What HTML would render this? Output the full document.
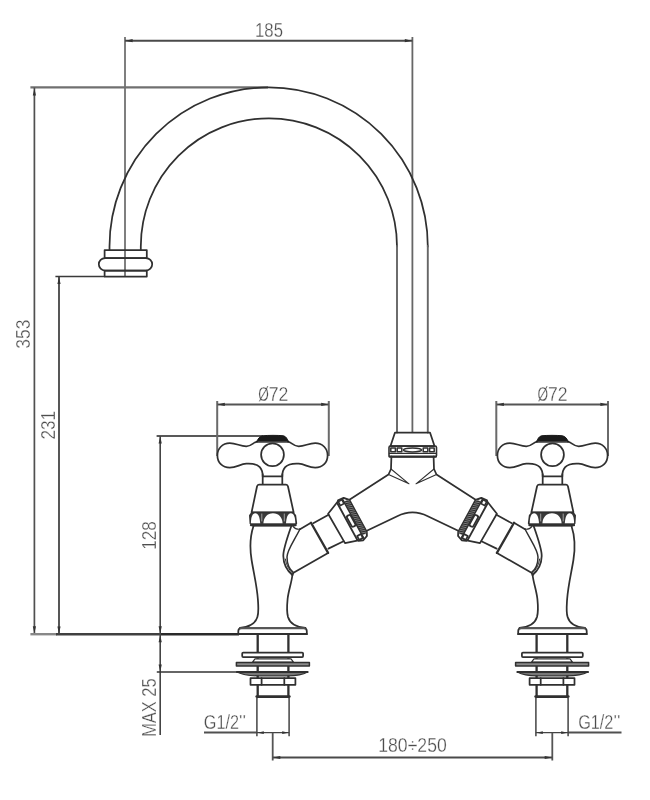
<!DOCTYPE html>
<html><head><meta charset="utf-8"><title>Technical drawing</title>
<style>
html,body{margin:0;padding:0;background:#fff;}
svg{display:block;will-change:transform;}
text{font-family:"Liberation Sans",sans-serif;font-size:19.3px;fill:#4d4d4d;stroke:#fff;stroke-width:0.3px;}
</style></head>
<body>
<svg width="650" height="800" viewBox="0 0 650 800">
<defs>
<pattern id="knurl" width="2" height="2" patternUnits="userSpaceOnUse" patternTransform="rotate(40)">
<rect width="2" height="2" fill="#999"/><rect width="2" height="1.25" fill="#2a2a2a"/>
</pattern>
</defs>
<g fill="none" stroke="#444" stroke-width="1.6">
<path d="M125,37 L125,276.5" stroke="#555" stroke-width="1.5"/>
<path d="M412.4,37 L412.4,432.5" stroke="#666" stroke-width="1.8"/>
<path d="M125,40.7 L412.4,40.7" stroke-width="2" stroke="#4a4a4a"/>
<path d="M30.4,87.4 L268,87.4" stroke-width="2.4" stroke="#707070"/>
<path d="M34.4,87.6 L34.4,634.2" stroke="#505050" stroke-width="1.7"/>
<path d="M59,276.3 L59,634.2" stroke="#444" stroke-width="1.8"/>
<path d="M55.4,276.5 L104.6,276.5" stroke="#3a3a3a"/>
<path d="M30.4,634.2 L57,634.2" stroke-width="2.4" stroke="#888"/>
<path d="M56,634.2 L160,634.2" stroke-width="2.4" stroke="#404040"/>
<path d="M160,634.2 L239,634.2" stroke-width="2.4" stroke="#2a2a2a"/>
<path d="M156.6,436 L263,436" stroke="#222" stroke-width="1.7"/>
<path d="M160.2,436 L160.2,735"/>
<path d="M156.8,671.9 L238,671.9" stroke="#333" stroke-width="1.5"/>
<path d="M217.2,401 L217.2,456 M328.8,401 L328.8,456" stroke="#6a6a6a" stroke-width="2"/>
<path d="M217.2,404.4 L328.8,404.4" stroke-width="2" stroke="#555"/>
<path d="M496.3,401 L496.3,456 M608.0,401 L608.0,456" stroke="#6a6a6a" stroke-width="2"/>
<path d="M496.3,404.4 L608.0,404.4" stroke-width="2" stroke="#555"/>
<path d="M204,732.6 L256.9,732.6 M568.1,732.6 L621.5,732.6" stroke-width="2" stroke="#505050"/>
<path d="M256.9,732.7 L289.2,732.7 M535.8,732.7 L568.1,732.7" stroke-width="1.3"/>
<path d="M256.9,698 L256.9,736.3 M289.1,698 L289.1,736.3 M535.9,698 L535.9,736.3 M568.1,698 L568.1,736.3" stroke-width="1.5"/>
<path d="M272.7,732.7 L272.7,760.4 M552.3,732.7 L552.3,760.4" stroke="#555" stroke-width="1.8"/>
<path d="M272.7,757.5 L552.3,757.5" stroke-width="2" stroke="#4a4a4a"/>
</g>
<g fill="#333" stroke="none">
<polygon points="125.6,40.7 132.6,39.1 132.6,42.3"/>
<polygon points="411.8,40.7 404.8,39.1 404.8,42.3"/>
<polygon points="34.4,88.6 32.8,95.6 36.0,95.6"/>
<polygon points="34.4,633.2 32.8,626.2 36.0,626.2"/>
<polygon points="59.0,277.0 57.4,284.0 60.6,284.0"/>
<polygon points="59.0,633.4 57.4,626.4 60.6,626.4"/>
<polygon points="160.2,436.6 158.6,443.6 161.8,443.6"/>
<polygon points="160.2,633.2 158.6,626.2 161.8,626.2"/>
<polygon points="160.2,635.2 158.6,642.2 161.8,642.2"/>
<polygon points="160.2,671.4 158.6,664.4 161.8,664.4"/>
<polygon points="217.8,404.4 224.8,402.8 224.8,406.0"/>
<polygon points="328.2,404.4 321.2,402.8 321.2,406.0"/>
<polygon points="496.9,404.4 503.9,402.8 503.9,406.0"/>
<polygon points="607.4,404.4 600.4,402.8 600.4,406.0"/>
<polygon points="257.6,732.7 263.8,731.3 263.8,734.1"/>
<polygon points="288.4,732.7 282.2,731.3 282.2,734.1"/>
<polygon points="536.6,732.7 542.8,731.3 542.8,734.1"/>
<polygon points="567.4,732.7 561.2,731.3 561.2,734.1"/>
<polygon points="273.3,757.5 280.3,755.9 280.3,759.1"/>
<polygon points="551.7,757.5 544.7,755.9 544.7,759.1"/>
</g>
<g fill="none" stroke="#303030" stroke-width="1.75" stroke-linejoin="round" stroke-linecap="round">
<path d="M109.5,250 L109.5,246.5 A159.15,159.15 0 0 1 427.8,246.5"/>
<path d="M140.8,250 L140.8,246.4 A128.1,128.1 0 0 1 397,246.4"/>
<path d="M427.8,246 L427.8,432.5 M397,246 L397,432.5" stroke="#666" stroke-width="1.9"/>
<rect x="104.6" y="250" width="42.2" height="8"/>
<rect x="104.6" y="270.5" width="42.2" height="6"/>
<rect x="98.8" y="258" width="53.4" height="12.5" rx="6.25"/>
<path d="M395,432.5 L430,432.5 L434.5,446 L390.5,446 Z"/>
<rect x="389" y="446" width="47.5" height="11" rx="1.5" stroke-width="1.6"/>
<path d="M389.5,453.4 L436,453.4" stroke-width="1.4"/>
<path d="M389.5,456.5 L436,456.5" stroke-width="2"/>
<rect x="390.8" y="448.1" width="4.6" height="3.6" stroke-width="1.5"/>
<rect x="397.2" y="448.1" width="4.6" height="3.6" stroke-width="1.5"/>
<rect x="423.2" y="448.1" width="4.6" height="3.6" stroke-width="1.5"/>
<rect x="429.6" y="448.1" width="4.6" height="3.6" stroke-width="1.5"/>
<ellipse cx="412.5" cy="449.9" rx="9" ry="2" stroke-width="1.5"/>
<path d="M366.8,530.8 L397.2,516.2 Q412.5,508.5 427.8,516.2 L458.2,530.8"/>
</g>
<g fill="none" stroke="#303030" stroke-width="1.75" stroke-linejoin="round" stroke-linecap="round">
<path d="M391.4,456.5 L391,469 L388.5,474.5 L349,500"/>
<path d="M391,469 L409,483.8 L388.5,474.5" stroke-width="1.1"/>
<path d="M336.8,502.8 L328.1,513.8 L345,543.1 L357.2,540.6"/>
<path d="M328.6,514.8 L313.2,523.2 M343.6,541.2 L328.4,548.6"/>
<path d="M311,522.8 L328.1,552.9" stroke-width="2.3"/>
<path d="M311,522.8 L300,529.2 M328.1,552.9 L293.5,572.7 L292.4,575"/>
<path d="M291.2,526.5 C287.5,537 283.2,549 283.3,556 C283.4,563.5 287,570.5 292.4,575"/>
<path d="M300,529 C294,541 287,550 287,557 C287,563.5 289.5,569.5 293.5,572.7" stroke-width="1.5"/>
<path d="M285.3,559 C286.2,565 289,570 292.8,573.4" stroke-width="1"/>
<path d="M293.2,526.6 Q295.5,529.6 300,529.2" stroke-width="1.2"/>
<g transform="translate(352.6,518.5) rotate(-28.5)">
<path d="M-6.1,-21 L-4.2,-22.8 L2,-22.4 L6,-17.8 L6,18.6 L4.2,22.2 L-1,24.2 L-5.4,22.4 L-6.1,20.4 Z" stroke-width="1.9" fill="#fff"/>
<rect x="0.8" y="-19" width="4.8" height="38.6" fill="url(#knurl)" stroke="none"/>
<path d="M0.4,-21.6 L0.4,22.6" stroke-width="1.6"/>
<rect x="-4.6" y="-21.6" width="4.2" height="4.4" stroke-width="1.7"/>
<rect x="-4.4" y="17.6" width="4.2" height="4.4" stroke-width="1.7"/>
<rect x="-4.5" y="-4.8" width="4.2" height="12.4" rx="1.6" stroke-width="1.8"/>
</g>
</g>
<g fill="none" stroke="#303030" stroke-width="1.75" stroke-linejoin="round" stroke-linecap="round" transform="translate(825,0) scale(-1,1)">
<path d="M391.4,456.5 L391,469 L388.5,474.5 L349,500"/>
<path d="M391,469 L409,483.8 L388.5,474.5" stroke-width="1.1"/>
<path d="M336.8,502.8 L328.1,513.8 L345,543.1 L357.2,540.6"/>
<path d="M328.6,514.8 L313.2,523.2 M343.6,541.2 L328.4,548.6"/>
<path d="M311,522.8 L328.1,552.9" stroke-width="2.3"/>
<path d="M311,522.8 L300,529.2 M328.1,552.9 L293.5,572.7 L292.4,575"/>
<path d="M291.2,526.5 C287.5,537 283.2,549 283.3,556 C283.4,563.5 287,570.5 292.4,575"/>
<path d="M300,529 C294,541 287,550 287,557 C287,563.5 289.5,569.5 293.5,572.7" stroke-width="1.5"/>
<path d="M285.3,559 C286.2,565 289,570 292.8,573.4" stroke-width="1"/>
<path d="M293.2,526.6 Q295.5,529.6 300,529.2" stroke-width="1.2"/>
<g transform="translate(352.6,518.5) rotate(-28.5)">
<path d="M-6.1,-21 L-4.2,-22.8 L2,-22.4 L6,-17.8 L6,18.6 L4.2,22.2 L-1,24.2 L-5.4,22.4 L-6.1,20.4 Z" stroke-width="1.9" fill="#fff"/>
<rect x="0.8" y="-19" width="4.8" height="38.6" fill="url(#knurl)" stroke="none"/>
<path d="M0.4,-21.6 L0.4,22.6" stroke-width="1.6"/>
<rect x="-4.6" y="-21.6" width="4.2" height="4.4" stroke-width="1.7"/>
<rect x="-4.4" y="17.6" width="4.2" height="4.4" stroke-width="1.7"/>
<rect x="-4.5" y="-4.8" width="4.2" height="12.4" rx="1.6" stroke-width="1.8"/>
</g>
</g>
<g fill="#fff" stroke="#303030" stroke-width="1.75" stroke-linejoin="round" stroke-linecap="round">
<path d="M257,441.6 C253.5,442.2 251.5,446.3 246.3,446.3 C240,446.3 236.5,443.2 229.8,443.2 C222.3,443.2 217.4,448.6 217.4,455.4 C217.4,462.4 222.3,467.5 229.8,467.5 C236.5,467.5 240,464.2 246.3,463.7 C252.5,463.3 257,464.3 259.8,467.2 C261.8,469.4 262.7,472 262.7,476.4"/>
<path d="M288,441.6 C291.5,442.2 293.5,446.3 298.7,446.3 C305,446.3 308.5,443.2 315.2,443.2 C322.7,443.2 327.6,448.6 327.6,455.4 C327.6,462.4 322.7,467.5 315.2,467.5 C308.5,467.5 305,464.2 298.7,463.7 C292.5,463.3 288,464.3 285.2,467.2 C283.2,469.4 282.3,472 282.3,476.4"/>
<path d="M256.6,441.8 C258,438.8 259.5,436.4 262.5,435.8 C268,435.2 278,435.2 283.5,435.8 C286,436.4 287.2,438.8 288.6,441.8 Z" fill="#1a1a1a" stroke="#1a1a1a" stroke-width="1"/>
<circle cx="272.5" cy="454.7" r="11.4"/>
<path d="M262.7,474 L262.7,484.5 M282.3,474 L282.3,484.5 M262.7,476.4 L282.3,476.4"/>
<path d="M259,484.5 L286,484.5 Q287.6,484.5 288,486.5 L293.6,512.3 L251.6,512.3 L257,486.5 Q257.4,484.5 259,484.5 Z"/>
<path d="M252,512.4 L293,512.4 L295.4,515.4 L296.4,523.4 L294,525.8 L252.8,525.8 L250.3,523.4 L249.8,515.4 Z" stroke-width="1.5" fill="#3a3a3a"/>
<path d="M250.9,523.3 C251,517 252.4,513.3 255.3,513.3 C258.4,513.3 259.8,517.5 260.2,523.3 Z" stroke="none"/>
<path d="M263.4,523.3 C263.8,517 267.4,513.2 273,513.2 C278.6,513.2 282.2,517 282.6,523.3 Z" stroke="none"/>
<path d="M286,523.3 C286.4,517.5 287.8,513.3 290.9,513.3 C293.8,513.3 295.2,517 295.3,523.3 Z" stroke="none"/>
<path d="M261.8,514 L261.8,521 M284.3,514 L284.3,521" stroke="#bbb" stroke-width="0.8"/>
<path d="M251,525.2 L295.6,525.2" stroke-width="2.2"/>
<path d="M253.5,526 C250.2,536 249.8,549 251.6,560 C253.5,572 257,586 257.9,599.5 C258.3,606 259,612 257.4,617 C255.4,623.5 249,627.2 240,627.9"/>
<path d="M292.4,575 C291.5,583 288.6,590 287.6,599 C287,605 286.6,612 288,617 C290,623.5 296.5,627.2 305.5,627.9"/>
<path d="M238.3,634.2 L238.3,631 Q238.3,628 241.5,628 L303.6,628 Q306.8,628 306.8,631 L306.8,634.2 Z"/>
<path d="M238.3,633.9 L306.8,633.9" stroke-width="2"/>
<path d="M240.5,628.2 L304.6,628.2" stroke-width="2" stroke="#555"/>
<path d="M257.7,634.5 L257.7,697 M288.4,634.5 L288.4,697" stroke-width="2.3"/>
<path d="M256.8,696.6 L289.3,696.6" stroke-width="2.8"/>
<rect x="242.2" y="652.5" width="60.9" height="4.6" rx="1"/>
<path d="M255,658.8 L291,658.8 L293.5,662.2 L252.5,662.2 Z" stroke-width="1.2"/>
<rect x="236.4" y="662.6" width="73" height="3.4" fill="#8a8a8a" stroke-width="1.5"/>
<path d="M237,672 C244,675.6 252,675.8 258,675.8 L288,675.8 C294,675.8 301,675.6 307.6,672 Z" fill="#777" stroke-width="1.2"/>
<path d="M237,672 L307.6,672" stroke-width="2"/>
<rect x="250.5" y="678.2" width="44.9" height="6.6"/>
<path d="M261.6,678.2 L261.6,684.8 M284.3,678.2 L284.3,684.8"/>
</g>
<g fill="#fff" stroke="#303030" stroke-width="1.75" stroke-linejoin="round" stroke-linecap="round" transform="translate(825,0) scale(-1,1)">
<path d="M257,441.6 C253.5,442.2 251.5,446.3 246.3,446.3 C240,446.3 236.5,443.2 229.8,443.2 C222.3,443.2 217.4,448.6 217.4,455.4 C217.4,462.4 222.3,467.5 229.8,467.5 C236.5,467.5 240,464.2 246.3,463.7 C252.5,463.3 257,464.3 259.8,467.2 C261.8,469.4 262.7,472 262.7,476.4"/>
<path d="M288,441.6 C291.5,442.2 293.5,446.3 298.7,446.3 C305,446.3 308.5,443.2 315.2,443.2 C322.7,443.2 327.6,448.6 327.6,455.4 C327.6,462.4 322.7,467.5 315.2,467.5 C308.5,467.5 305,464.2 298.7,463.7 C292.5,463.3 288,464.3 285.2,467.2 C283.2,469.4 282.3,472 282.3,476.4"/>
<path d="M256.6,441.8 C258,438.8 259.5,436.4 262.5,435.8 C268,435.2 278,435.2 283.5,435.8 C286,436.4 287.2,438.8 288.6,441.8 Z" fill="#1a1a1a" stroke="#1a1a1a" stroke-width="1"/>
<circle cx="272.5" cy="454.7" r="11.4"/>
<path d="M262.7,474 L262.7,484.5 M282.3,474 L282.3,484.5 M262.7,476.4 L282.3,476.4"/>
<path d="M259,484.5 L286,484.5 Q287.6,484.5 288,486.5 L293.6,512.3 L251.6,512.3 L257,486.5 Q257.4,484.5 259,484.5 Z"/>
<path d="M252,512.4 L293,512.4 L295.4,515.4 L296.4,523.4 L294,525.8 L252.8,525.8 L250.3,523.4 L249.8,515.4 Z" stroke-width="1.5" fill="#3a3a3a"/>
<path d="M250.9,523.3 C251,517 252.4,513.3 255.3,513.3 C258.4,513.3 259.8,517.5 260.2,523.3 Z" stroke="none"/>
<path d="M263.4,523.3 C263.8,517 267.4,513.2 273,513.2 C278.6,513.2 282.2,517 282.6,523.3 Z" stroke="none"/>
<path d="M286,523.3 C286.4,517.5 287.8,513.3 290.9,513.3 C293.8,513.3 295.2,517 295.3,523.3 Z" stroke="none"/>
<path d="M261.8,514 L261.8,521 M284.3,514 L284.3,521" stroke="#bbb" stroke-width="0.8"/>
<path d="M251,525.2 L295.6,525.2" stroke-width="2.2"/>
<path d="M253.5,526 C250.2,536 249.8,549 251.6,560 C253.5,572 257,586 257.9,599.5 C258.3,606 259,612 257.4,617 C255.4,623.5 249,627.2 240,627.9"/>
<path d="M292.4,575 C291.5,583 288.6,590 287.6,599 C287,605 286.6,612 288,617 C290,623.5 296.5,627.2 305.5,627.9"/>
<path d="M238.3,634.2 L238.3,631 Q238.3,628 241.5,628 L303.6,628 Q306.8,628 306.8,631 L306.8,634.2 Z"/>
<path d="M238.3,633.9 L306.8,633.9" stroke-width="2"/>
<path d="M240.5,628.2 L304.6,628.2" stroke-width="2" stroke="#555"/>
<path d="M257.7,634.5 L257.7,697 M288.4,634.5 L288.4,697" stroke-width="2.3"/>
<path d="M256.8,696.6 L289.3,696.6" stroke-width="2.8"/>
<rect x="242.2" y="652.5" width="60.9" height="4.6" rx="1"/>
<path d="M255,658.8 L291,658.8 L293.5,662.2 L252.5,662.2 Z" stroke-width="1.2"/>
<rect x="236.4" y="662.6" width="73" height="3.4" fill="#8a8a8a" stroke-width="1.5"/>
<path d="M237,672 C244,675.6 252,675.8 258,675.8 L288,675.8 C294,675.8 301,675.6 307.6,672 Z" fill="#777" stroke-width="1.2"/>
<path d="M237,672 L307.6,672" stroke-width="2"/>
<rect x="250.5" y="678.2" width="44.9" height="6.6"/>
<path d="M261.6,678.2 L261.6,684.8 M284.3,678.2 L284.3,684.8"/>
</g>
<g>
<text x="269.0" y="36.8" text-anchor="middle" textLength="27.9" lengthAdjust="spacingAndGlyphs">185</text>
<text transform="translate(30.2,334.2) rotate(-90)" x="0" y="0" text-anchor="middle" textLength="29.0" lengthAdjust="spacingAndGlyphs">353</text>
<text transform="translate(55.4,425.2) rotate(-90)" x="0" y="0" text-anchor="middle" textLength="28.5" lengthAdjust="spacingAndGlyphs">231</text>
<text transform="translate(156.4,535.6) rotate(-90)" x="0" y="0" text-anchor="middle" textLength="28.5" lengthAdjust="spacingAndGlyphs">128</text>
<text transform="translate(156.2,707.6) rotate(-90)" x="0" y="0" text-anchor="middle" textLength="58.5" lengthAdjust="spacingAndGlyphs">MAX 25</text>
<text x="258.2" y="400.6" textLength="10.6" lengthAdjust="spacingAndGlyphs">&#216;</text>
<text x="268.8" y="400.6" textLength="19.6" lengthAdjust="spacingAndGlyphs">72</text>
<text x="537.4" y="400.6" textLength="10.6" lengthAdjust="spacingAndGlyphs">&#216;</text>
<text x="548.0" y="400.6" textLength="19.6" lengthAdjust="spacingAndGlyphs">72</text>
<text x="203.8" y="728.8" textLength="35.2" lengthAdjust="spacingAndGlyphs">G1/2</text>
<text x="239.0" y="725.3" style="font-size:15px" textLength="7" lengthAdjust="spacingAndGlyphs">&quot;</text>
<text x="578.2" y="728.8" textLength="35.2" lengthAdjust="spacingAndGlyphs">G1/2</text>
<text x="613.4" y="725.3" style="font-size:15px" textLength="7" lengthAdjust="spacingAndGlyphs">&quot;</text>
<text x="412.5" y="752.4" text-anchor="middle" textLength="68.5" lengthAdjust="spacingAndGlyphs">180&#247;250</text>
</g>
</svg>
</body></html>
